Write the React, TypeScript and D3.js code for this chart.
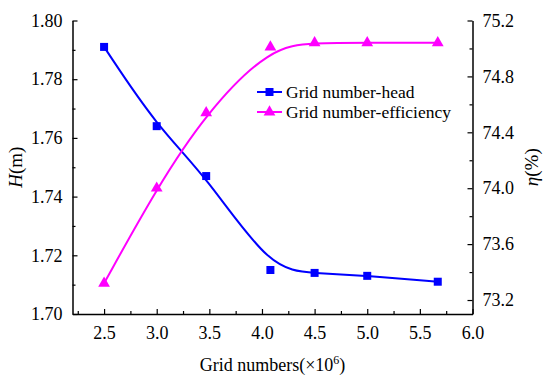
import React, { useRef, useEffect } from 'react';
import * as d3 from 'd3';

// Grid numbers (x10^6)
const gridNumbers = [2.5, 3.0, 3.47, 4.08, 4.5, 5.0, 5.67];
// Head H (m)
const headValues = [1.791, 1.764, 1.747, 1.715, 1.714, 1.713, 1.711];
// Efficiency eta (%)
const effValues = [73.32, 74.0, 74.54, 75.01, 75.04, 75.04, 75.04];

const xTicks = [2.5, 3.0, 3.5, 4.0, 4.5, 5.0, 5.5, 6.0];
const leftTicks = [1.7, 1.72, 1.74, 1.76, 1.78, 1.8];
const rightTicks = [73.2, 73.6, 74.0, 74.4, 74.8, 75.2];

const seriesNames = ['Grid number-head', 'Grid number-efficiency'];

const BLUE = '#0000ff';
const MAGENTA = '#ff00ff';
const FONT = "'Liberation Serif', 'Times New Roman', serif";

const isMajor = (ticks: number[], v: number) => ticks.some((t) => Math.abs(t - v) < 1e-6);

const App = () => {
  const ref = useRef<SVGSVGElement>(null);

  useEffect(() => {
    const svg = d3.select(ref.current);
    svg.selectAll('*').remove();

    const left = 72.5;
    const right = 472.5;
    const top = 20.5;
    const bottom = 314;

    const x = d3.scaleLinear().domain([2.2, 6.0]).range([left, right]);
    const yL = d3.scaleLinear().domain([1.7, 1.8]).range([bottom, top]);
    const yR = d3.scaleLinear().domain([73.1, 75.2]).range([bottom, top]);

    const g = svg.append('g').style('font-family', FONT);

    const headData = gridNumbers.map((v, i) => [v, headValues[i]] as [number, number]);
    const effData = gridNumbers.map((v, i) => [v, effValues[i]] as [number, number]);

    // smoothed curves (B-spline like the original)
    const lineH = d3
      .line<[number, number]>()
      .x((d) => x(d[0]))
      .y((d) => yL(d[1]))
      .curve(d3.curveBasis);
    const lineE = d3
      .line<[number, number]>()
      .x((d) => x(d[0]))
      .y((d) => yR(d[1]))
      .curve(d3.curveBasis);

    g.append('path')
      .datum(headData)
      .attr('d', lineH)
      .attr('fill', 'none')
      .attr('stroke', BLUE)
      .attr('stroke-width', 2);
    g.append('path')
      .datum(effData)
      .attr('d', lineE)
      .attr('fill', 'none')
      .attr('stroke', MAGENTA)
      .attr('stroke-width', 2);

    const square = d3.symbol().type(d3.symbolSquare).size(64);
    const triangle = d3.symbol().type(d3.symbolTriangle).size(60);

    g.selectAll('.sq')
      .data(headData)
      .join('path')
      .attr('d', square)
      .attr('transform', (d) => `translate(${x(d[0])},${yL(d[1])})`)
      .attr('fill', BLUE);
    g.selectAll('.tri')
      .data(effData)
      .join('path')
      .attr('d', triangle)
      .attr('transform', (d) => `translate(${x(d[0])},${yR(d[1])})`)
      .attr('fill', MAGENTA);

    // axes, ticks pointing inward
    const fontSize = 18;

    const xAxis = d3
      .axisBottom(x)
      .tickValues(d3.range(2.25, 6.01, 0.25))
      .tickSizeInner(-5)
      .tickSizeOuter(0)
      .tickPadding(12)
      .tickFormat((d) => (isMajor(xTicks, +d) ? d3.format('.1f')(+d) : ''));
    const gx = g.append('g').attr('transform', `translate(0,${bottom})`).call(xAxis);
    gx.selectAll('.tick line').attr('y2', (d: any) => (isMajor(xTicks, d) ? -5 : -3));

    const yAxisL = d3
      .axisLeft(yL)
      .tickValues(d3.range(1.7, 1.8001, 0.01))
      .tickSizeInner(-5)
      .tickSizeOuter(0)
      .tickPadding(10)
      .tickFormat((d) => (isMajor(leftTicks, +d) ? d3.format('.2f')(+d) : ''));
    const gl = g.append('g').attr('transform', `translate(${left},0)`).call(yAxisL);
    gl.selectAll('.tick line').attr('x2', (d: any) => (isMajor(leftTicks, d) ? 5 : 3));

    const yAxisR = d3
      .axisRight(yR)
      .tickValues(d3.range(73.2, 75.2001, 0.2))
      .tickSizeInner(-5)
      .tickSizeOuter(0)
      .tickPadding(10)
      .tickFormat((d) => (isMajor(rightTicks, +d) ? d3.format('.1f')(+d) : ''));
    const gr = g.append('g').attr('transform', `translate(${right},0)`).call(yAxisR);
    gr.selectAll('.tick line').attr('x2', (d: any) => (isMajor(rightTicks, d) ? -5 : -3));

    [gx, gl, gr].forEach((a) => {
      a.attr('font-family', null).attr('font-size', null);
      a.selectAll('.domain').attr('stroke', '#000').attr('stroke-width', 1.5);
      a.selectAll('.tick line').attr('stroke', '#000').attr('stroke-width', 1.2);
      a.selectAll('text')
        .style('font-family', FONT)
        .style('font-size', `${fontSize}px`)
        .attr('fill', '#000');
    });

    // axis titles
    const xt = g
      .append('text')
      .attr('x', (left + right) / 2)
      .attr('y', 371)
      .attr('text-anchor', 'middle')
      .style('font-size', `${fontSize}px`);
    xt.append('tspan').text('Grid numbers(×10');
    xt.append('tspan').style('font-size', '12px').attr('dy', -7).text('6');
    xt.append('tspan').attr('dy', 7).text(')');

    const lt = g
      .append('text')
      .attr('transform', `translate(22,${(top + bottom) / 2}) rotate(-90)`)
      .attr('text-anchor', 'middle')
      .style('font-size', `${fontSize + 1}px`);
    lt.append('tspan').style('font-style', 'italic').text('H');
    lt.append('tspan').text('(m)');

    const rt = g
      .append('text')
      .attr('transform', `translate(538,${(top + bottom) / 2}) rotate(-90)`)
      .attr('text-anchor', 'middle')
      .style('font-size', `${fontSize + 1}px`);
    rt.append('tspan').style('font-style', 'italic').text('η');
    rt.append('tspan').text('(%)');

    // legend
    const legend = g.append('g').attr('transform', 'translate(257,92)');
    const items = [
      { name: seriesNames[0], color: BLUE, sym: square },
      { name: seriesNames[1], color: MAGENTA, sym: triangle },
    ];
    items.forEach((it, i) => {
      const row = legend.append('g').attr('transform', `translate(0,${i * 20})`);
      row.append('line').attr('x1', 0).attr('x2', 25).attr('stroke', it.color).attr('stroke-width', 2);
      row.append('path').attr('d', it.sym).attr('transform', 'translate(12.5,0)').attr('fill', it.color);
      row
        .append('text')
        .attr('x', 29)
        .attr('y', 6)
        .style('font-size', '17.5px')
        .text(it.name);
    });
  }, []);

  return (
    <svg
      ref={ref}
      width={550}
      height={384}
      style={{ position: 'absolute', left: 0, top: 0, background: '#fff' }}
    />
  );
};

export default App;
